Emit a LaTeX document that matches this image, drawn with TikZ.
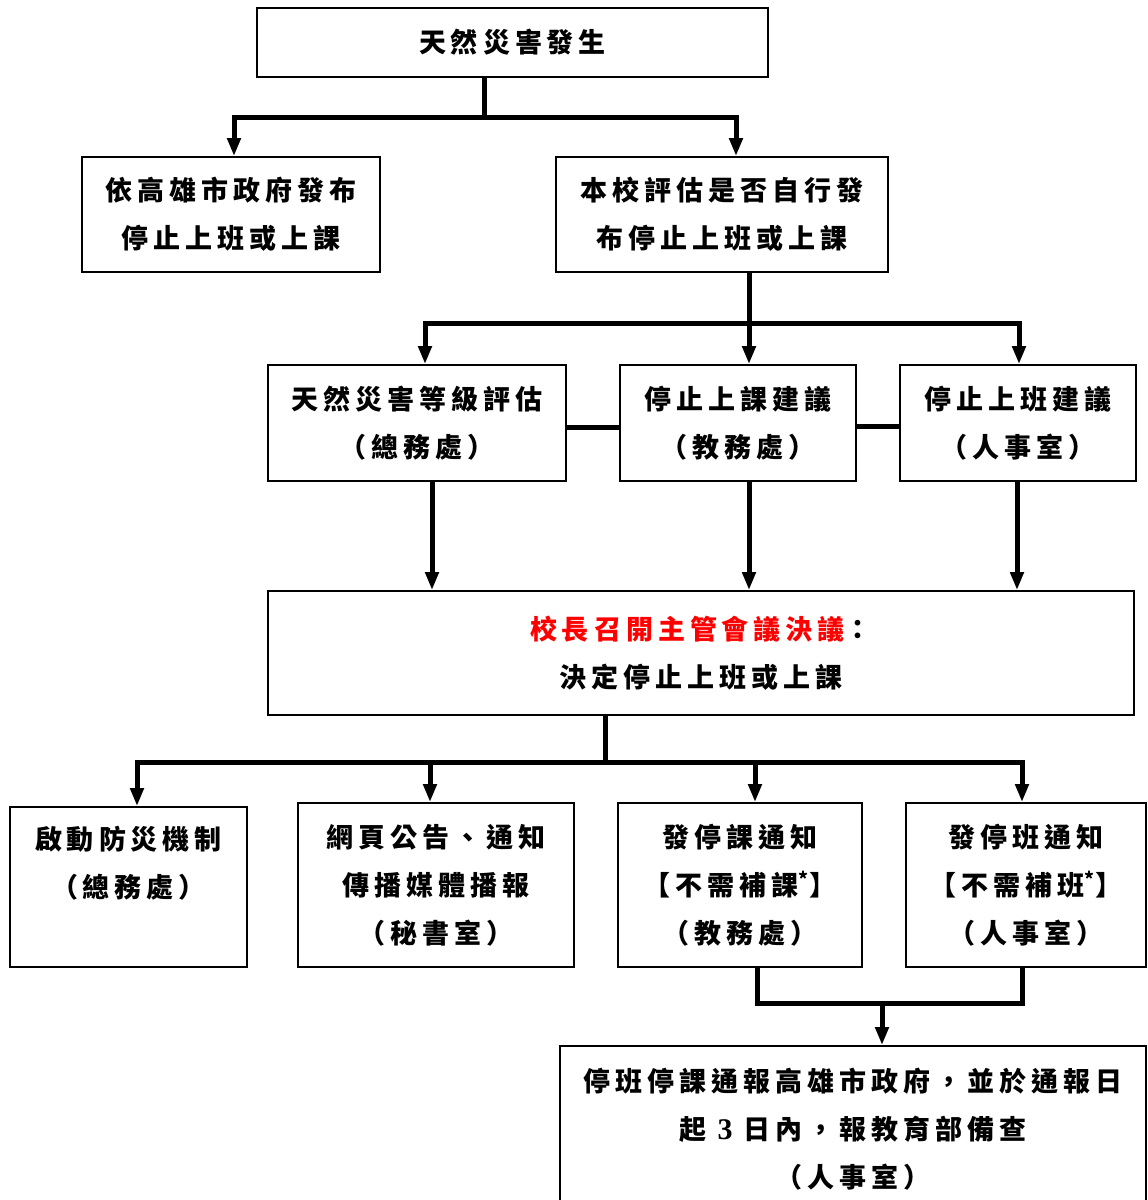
\documentclass[tikz,border=0pt]{standalone}
\usepackage{fontspec}
\usetikzlibrary{arrows.meta}
\newfontfamily\cjk{Noto Sans CJK TC}[LetterSpace=18.5]
\newfontfamily\tms{Liberation Serif}
\begin{document}
\begin{tikzpicture}[x=1pt,y=-1pt,
  box/.style={draw,line width=1.8pt,inner sep=0pt,align=center,
    font=\cjk\bfseries\fontsize{27}{48}\selectfont},
  conn/.style={line width=5pt},
  arr/.style={-{Triangle[length=18pt,width=13pt]}}]
\useasboundingbox (0,0) rectangle (1148,1200);
\node[box,minimum width=511pt,minimum height=69pt] (n1) at (512.5,42.5) {天然災害發生};
\node[box,minimum width=298pt,minimum height=115pt] (n2) at (231,214.5) {依高雄市政府發布\\停止上班或上課};
\node[box,minimum width=332pt,minimum height=115pt] (n3) at (722,214.5) {本校評估是否自行發\\布停止上班或上課};
\node[box,minimum width=298pt,minimum height=116pt] (n4) at (417,423) {天然災害等級評估\\（總務處）};
\node[box,minimum width=236pt,minimum height=116pt] (n5) at (738,423) {停止上課建議\\（教務處）};
\node[box,minimum width=236pt,minimum height=116pt] (n6) at (1018,423) {停止上班建議\\（人事室）};
\node[box,minimum width=866pt,minimum height=124pt] (n7) at (701,653) {\textcolor{red}{校長召開主管會議決議}：\\決定停止上班或上課};
\node[box,minimum width=237pt,minimum height=160pt] (n8) at (128.5,887) {啟動防災機制\\（總務處）\\\phantom{（}};
\node[box,minimum width=276pt,minimum height=164pt] (n9) at (436,885) {網頁公告、通知\\傳播媒體播報\\（秘書室）};
\node[box,minimum width=244pt,minimum height=164pt] (n10) at (740,885) {發停課通知\\【不需補課\textsuperscript{*}】\\（教務處）};
\node[box,minimum width=240pt,minimum height=164pt] (n11) at (1026,885) {發停班通知\\【不需補班\textsuperscript{*}】\\（人事室）};
\node[box,minimum width=586pt,minimum height=166pt] (n12) at (853,1129) {停班停課通報高雄市政府，並於通報日\\起 {\tms\bfseries\fontsize{30}{48}\selectfont 3} 日內，報教育部備查\\（人事室）};
% connectors level 1
\coordinate (j1) at (484,117);
\draw[conn] (j1 |- n1.south) -- (j1);
\draw[conn,arr] (j1) -| ([xshift=3pt]n2.north);
\draw[conn,arr] (j1) -| ([xshift=14pt]n3.north);
% level 2
\coordinate (j2) at (749,323);
\draw[conn] (j2 |- n3.south) -- (j2);
\draw[conn,arr] (j2) -| ([xshift=8pt]n4.north);
\draw[conn,arr] (j2) -- (j2 |- n5.north);
\draw[conn,arr] (j2) -| ([xshift=1pt]n6.north);
\draw[conn] ([yshift=-4pt]n4.east) -- ([yshift=-4pt]n4.east -| n5.west);
\draw[conn] ([yshift=-3pt]n5.east) -- ([yshift=-3pt]n5.east -| n6.west);
% level 3
\coordinate (p4) at ([xshift=15pt]n4.south);
\coordinate (p5) at ([xshift=11pt]n5.south);
\coordinate (p6) at ([xshift=-1pt]n6.south);
\draw[conn,arr] (p4) -- (p4 |- n7.north);
\draw[conn,arr] (p5) -- (p5 |- n7.north);
\draw[conn,arr] (p6) -- (p6 |- n7.north);
% level 4
\coordinate (j3) at (605,762);
\draw[conn] (j3 |- n7.south) -- (j3);
\draw[conn,arr] (j3) -| ([xshift=8.5pt]n8.north);
\draw[conn,arr] (j3) -| ([xshift=-6pt]n9.north);
\draw[conn,arr] (j3) -| ([xshift=15pt]n10.north);
\draw[conn,arr] (j3) -| ([xshift=-4pt]n11.north);
% level 5
\coordinate (j4) at (882,1003);
\coordinate (p10) at ([xshift=17pt]n10.south);
\coordinate (p11) at ([xshift=-4pt]n11.south);
\draw[conn] (p10) |- (j4) -| (p11);
\draw[conn,arr] (j4) -- (j4 |- n12.north);
\end{tikzpicture}
\end{document}
